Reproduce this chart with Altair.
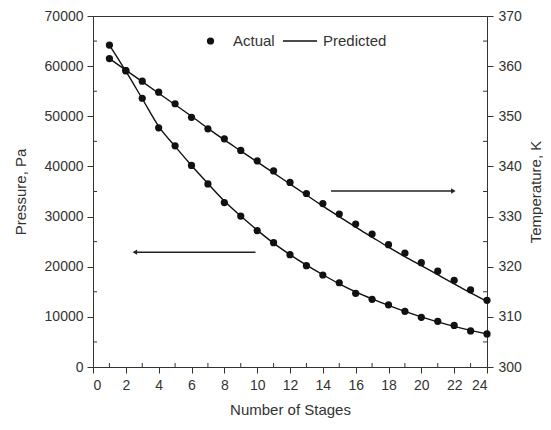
import altair as alt
import pandas as pd

# ---- data ----
stages = list(range(1, 25))
p_actual = [64200, 59100, 53600, 47700, 44100, 40200, 36500, 32800, 30100, 27200,
            24800, 22400, 20200, 18350, 16800, 14700, 13500, 12400, 11100, 9900,
            9100, 8300, 7200, 6600]
p_pred = [64200, 59000, 53500, 48000, 44000, 40200, 36600, 33100, 30100, 27300,
          24700, 22400, 20300, 18400, 16600, 15000, 13600, 12300, 11100, 10000,
          9000, 8100, 7300, 6600]
t_actual = [361.5, 359.1, 357.0, 354.8, 352.5, 349.8, 347.5, 345.5, 343.2, 341.1,
            339.1, 336.8, 334.6, 332.6, 330.5, 328.5, 326.5, 324.4, 322.7, 320.8,
            319.1, 317.3, 315.4, 313.3]
t_pred = [361.5, 359.2, 356.9, 354.6, 352.3, 350.0, 347.6, 345.3, 343.1, 340.9,
          338.7, 336.5, 334.3, 332.1, 330.0, 327.9, 325.9, 323.9, 322.0, 320.2,
          318.4, 316.6, 314.8, 313.1]

x_major = list(range(0, 25, 2))
x_minor = list(range(1, 24, 2))
p_major = list(range(0, 70001, 10000))
p_minor = list(range(5000, 70000, 10000))
t_major = list(range(300, 371, 10))
t_minor = list(range(305, 370, 10))

# arrows (data coordinates, pressure scale)
arrow_x_start = [9.9, 14.5]
arrow_x_end = [2.55, 21.95]
arrow_p = [22900, 35100]
arrow_dir = ["left", "right"]

legend_labels = ["Actual", "Predicted"]
x_title = "Number of Stages"
p_title = "Pressure, Pa"
t_title = "Temperature, K"

W, H = 394, 351
FONT = "Liberation Sans"
TXT = "#333333"
INK = "#111111"

df_p = pd.DataFrame({"x": stages, "pa": p_actual, "pp": p_pred})
df_t = pd.DataFrame({"x": stages, "ta": t_actual, "tp": t_pred})
df_arrow = pd.DataFrame({"x": arrow_x_start, "x2": arrow_x_end, "p": arrow_p, "d": arrow_dir})
df_xm = pd.DataFrame({"x": x_minor})
df_pm = pd.DataFrame({"p": p_minor})
df_tm = pd.DataFrame({"t": t_minor})
df_leg = pd.DataFrame({"a": [legend_labels[0]], "b": [legend_labels[1]]})

xs = alt.Scale(domain=[0, 24], nice=False, zero=False)
ps = alt.Scale(domain=[0, 70000], nice=False)
ts = alt.Scale(domain=[300, 370], nice=False, zero=False)

x_axis = alt.Axis(values=x_major, format="d", title=x_title, tickSize=6, labelPadding=5,
                  titleX=W / 2, titleY=42, titleBaseline="middle", titleAlign="center")
p_axis = alt.Axis(values=p_major, format="d", title=p_title, tickSize=6, labelPadding=4,
                  titleAngle=270, titleX=-73, titleY=H / 2, titleBaseline="middle",
                  titleAlign="center")
t_axis = alt.Axis(values=t_major, format="d", title=t_title, tickSize=6, labelPadding=5,
                  orient="right", titleAngle=270, titleX=48, titleY=H / 2,
                  titleBaseline="middle", titleAlign="center")

X = lambda f: alt.X(f, scale=xs, axis=x_axis, title=x_title)
YP = lambda f: alt.Y(f, scale=ps, axis=p_axis, title=p_title)
YT = lambda f: alt.Y(f, scale=ts, axis=t_axis, title=t_title)

# ---- pressure group ----
p_line = alt.Chart(df_p).mark_line(color=INK, strokeWidth=1.4, interpolate="monotone").encode(
    x=X("x:Q"), y=YP("pp:Q"))
p_pts = alt.Chart(df_p).mark_point(filled=True, color=INK, size=52, opacity=1).encode(
    x=X("x:Q"), y=YP("pa:Q"))
p_minor_ticks = alt.Chart(df_pm).mark_rule(color=TXT, strokeWidth=1).encode(
    x=alt.value(0), x2=alt.value(4), y=YP("p:Q"))
x_minor_ticks = alt.Chart(df_xm).mark_rule(color=TXT, strokeWidth=1).encode(
    x=X("x:Q"), y=alt.value(H), y2=alt.value(H - 4))
arrow_body = alt.Chart(df_arrow).mark_rule(color="#222222", strokeWidth=1.5).encode(
    x=X("x:Q"), x2="x2:Q", y=YP("p:Q"))
arrow_head = alt.Chart(df_arrow).mark_point(filled=True, color="#222222", size=28, opacity=1).encode(
    x=X("x2:Q"), y=YP("p:Q"),
    shape=alt.Shape("d:N", scale=alt.Scale(domain=["left", "right"],
                                            range=["triangle-left", "triangle-right"]),
                    legend=None),
)

# legend (manual)
leg_dot = alt.Chart(df_leg).mark_point(filled=True, color=INK, size=52, opacity=1).encode(
    x=alt.value(117.5), y=alt.value(25))
leg_a = alt.Chart(df_leg).mark_text(align="left", baseline="middle", font=FONT, fontSize=15,
                                    color=TXT).encode(x=alt.value(140), y=alt.value(25), text="a:N")
leg_line = alt.Chart(df_leg).mark_rule(color=INK, strokeWidth=1.4).encode(
    x=alt.value(190), x2=alt.value(224), y=alt.value(25))
leg_b = alt.Chart(df_leg).mark_text(align="left", baseline="middle", font=FONT, fontSize=15,
                                    color=TXT).encode(x=alt.value(230), y=alt.value(25), text="b:N")

p_group = alt.layer(p_line, p_pts, p_minor_ticks, x_minor_ticks, arrow_body, arrow_head,
                    leg_dot, leg_a, leg_line, leg_b)

# ---- temperature group ----
t_line = alt.Chart(df_t).mark_line(color=INK, strokeWidth=1.4, interpolate="monotone").encode(
    x=X("x:Q"), y=YT("tp:Q"))
t_pts = alt.Chart(df_t).mark_point(filled=True, color=INK, size=52, opacity=1).encode(
    x=X("x:Q"), y=YT("ta:Q"))
t_minor_ticks = alt.Chart(df_tm).mark_rule(color=TXT, strokeWidth=1).encode(
    x=alt.value(W - 4), x2=alt.value(W), y=YT("t:Q"))
t_group = alt.layer(t_line, t_pts, t_minor_ticks)

chart = alt.layer(p_group, t_group).resolve_scale(y="independent", shape="independent").properties(
    width=W, height=H,
    autosize=alt.AutoSizeParams(type="none"),
    padding={"left": 85, "top": 8, "right": 56, "bottom": 55},
    background="white",
).configure_view(
    stroke=TXT, strokeWidth=1
).configure_axis(
    grid=False,
    domainColor=TXT, tickColor=TXT, domainWidth=1, tickWidth=1,
    labelColor=TXT, titleColor=TXT,
    labelFont=FONT, titleFont=FONT, labelFontSize=14, titleFontSize=15,
    titleFontWeight="normal",
)

chart.save("out.html", embed_options={"renderer": "svg", "actions": False})
